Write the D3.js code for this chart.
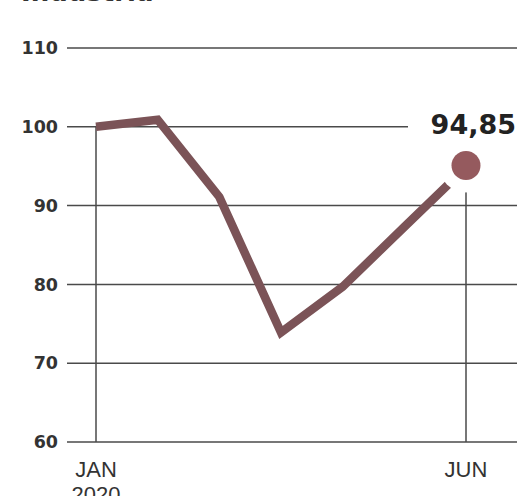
<!DOCTYPE html>
<html>
<head>
<meta charset="utf-8">
<script src="https://cdn.jsdelivr.net/npm/d3@7"></script>
<style>
    html, body { margin: 0; padding: 0; background: #fff; }
    svg { display: block; }
</style>
</head>
<body>
<script>
// Data
let months = [0, 1, 2, 3, 4, 5, 6];
let values = [100, 100.9, 91.1, 73.9, 79.7, 87.3, 94.85];
let yTicks = [60, 70, 80, 90, 100, 110];
let xLabels = [
    { i: 0, lines: ["JAN", "2020"] },
    { i: 6, lines: ["JUN"] }
];
let title = "Industria";
let lastLabel = "94,85";

let opts = {
    width: 521,
    height: 496,
    color: "#7b5357",
    dotColor: "#955a5e",
    grid: "#4a4a4a"
};

let svg = d3.select("body")
            .append("svg")
            .attr("width", opts.width)
            .attr("height", opts.height);

let x = d3.scaleLinear().domain([0, 6]).range([96, 466]);
let y = d3.scaleLinear().domain([60, 110]).range([442, 48]);

// Title (cut at the top)
svg.append("text")
   .attr("x", 21)
   .attr("y", 1)
   .attr("font-family", "DejaVu Sans, sans-serif")
   .attr("font-weight", 700)
   .attr("font-size", 26)
   .attr("fill", "#333")
   .text(title);

// Y axis labels
let yAxis = svg.append("g")
   .attr("transform", "translate(67,0)")
   .call(d3.axisLeft(y).tickValues(yTicks).tickSize(0).tickPadding(9));

yAxis.select(".domain").remove();
yAxis.selectAll("text")
   .attr("font-family", "DejaVu Sans, sans-serif")
   .attr("font-weight", 700)
   .attr("font-size", 17.5)
   .attr("fill", "#333");

// Horizontal gridlines
svg.selectAll("line.grid")
   .data(yTicks)
   .enter()
   .append("line")
   .attr("class", "grid")
   .attr("x1", 67)
   .attr("x2", (d) => d === 100 ? 408 : 517)
   .attr("y1", (d) => y(d))
   .attr("y2", (d) => y(d))
   .attr("stroke", opts.grid)
   .attr("stroke-width", 1.5);

// Vertical lines at first and last point
svg.append("line")
   .attr("x1", x(0)).attr("x2", x(0))
   .attr("y1", y(values[0])).attr("y2", y(60))
   .attr("stroke", opts.grid)
   .attr("stroke-width", 1.5);

svg.append("line")
   .attr("x1", x(6)).attr("x2", x(6))
   .attr("y1", y(values[6])).attr("y2", y(60))
   .attr("stroke", opts.grid)
   .attr("stroke-width", 1.5);

// X labels
xLabels.forEach((l) => {
    let t = svg.append("text")
       .attr("x", x(l.i))
       .attr("y", 477)
       .attr("text-anchor", "middle")
       .attr("font-family", "Liberation Sans, Arial, sans-serif")
       .attr("font-size", 22)
       .attr("fill", "#333");
    l.lines.forEach((s, k) => {
        t.append("tspan")
         .attr("x", x(l.i))
         .attr("dy", k === 0 ? 0 : 25)
         .text(s);
    });
});

// The line
svg.append("path")
   .datum(values)
   .attr("d", d3.line().x((d, i) => x(months[i])).y((d) => y(d)))
   .attr("fill", "none")
   .attr("stroke", opts.color)
   .attr("stroke-width", 8.5)
   .attr("stroke-linejoin", "miter");

// White halo and end dot
let cx = x(months[6]);
let cy = y(values[6]) - 2;

svg.append("circle")
   .attr("cx", cx)
   .attr("cy", cy)
   .attr("r", 27)
   .attr("fill", "#fff");

svg.append("circle")
   .attr("cx", cx)
   .attr("cy", cy)
   .attr("r", 14.5)
   .attr("fill", opts.dotColor);

svg.append("text")
   .attr("x", 516)
   .attr("y", 134)
   .attr("text-anchor", "end")
   .attr("font-family", "DejaVu Sans, sans-serif")
   .attr("font-weight", 700)
   .attr("font-size", 27)
   .attr("fill", "#222")
   .text(lastLabel);
</script>
</body>
</html>
